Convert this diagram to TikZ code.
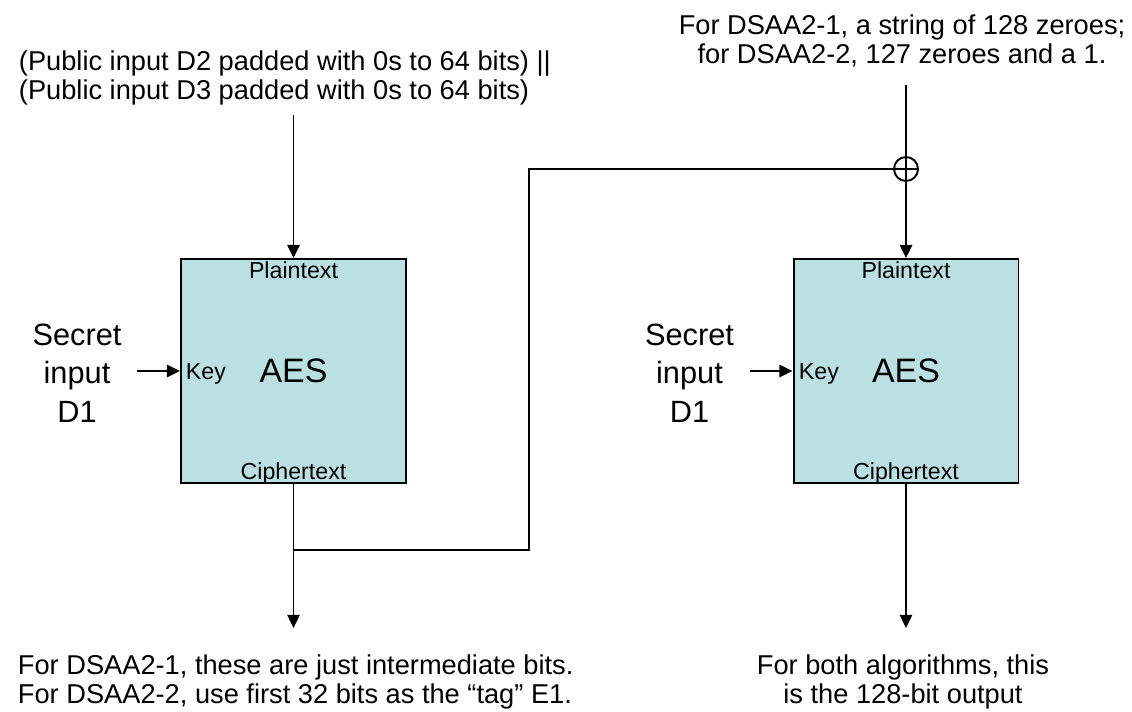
\documentclass[tikz,border=0pt]{standalone}
\usepackage{fontspec}
\setmainfont{Liberation Sans}
\usepackage{tikz}
\usetikzlibrary{positioning,arrows.meta}
\usepackage{xcolor}
\definecolor{aesfill}{RGB}{187,224,228}

\begin{document}
\begin{tikzpicture}[x=0.02cm, y=-0.02cm, line width=1.1pt,
  aesbox/.style={draw, fill=aesfill, minimum width=4.5cm, minimum height=4.48cm, inner sep=0pt,
    font=\fontsize{19.3pt}{22pt}\selectfont},
  portlbl/.style={inner sep=0pt, font=\fontsize{13.2pt}{15pt}\selectfont},
  note/.style={inner sep=0pt, font=\fontsize{15.5pt}{16.5pt}\selectfont},
  secret/.style={inner sep=0pt, align=center, font=\fontsize{17.5pt}{21.9pt}\selectfont},
  flow/.style={-{Triangle[length=7.5pt,width=7pt]}}]

  \useasboundingbox (0,0) rectangle (1132,711);

  % The two AES blocks, 225 px squares
  \node[aesbox] (aesA) at (293.5,371) {AES};
  \node[aesbox] (aesB) at (906,371) {AES};

  % Port labels inside the blocks
  \node[portlbl, anchor=base] (ptA) at (293.5,278) {Plaintext};
  \node[portlbl, anchor=base] (ctA) at (293.5,479) {Ciphertext};
  \node[portlbl, anchor=base west] (kyA) at (185,379) {Key};
  \node[portlbl, anchor=base] (ptB) at (906,278) {Plaintext};
  \node[portlbl, anchor=base] (ctB) at (906,479) {Ciphertext};
  \node[portlbl, anchor=base west] (kyB) at (798,379) {Key};

  % Secret key inputs
  \node[secret] (secA) at (77,373) {Secret\\input\\D1};
  \node[secret] (secB) at (689.5,373) {Secret\\input\\D1};
  \coordinate (keyA) at (137,371);
  \coordinate (keyB) at (749.5,371);
  \draw[flow] (keyA) -- (aesA.west);
  \draw[flow] (keyB) -- (aesB.west);

  % Public input to the first block
  \node[note, anchor=north west, align=left] (pubin) at (18,50)
    {(Public input D2 padded with 0s to 64 bits) ||\\(Public input D3 padded with 0s to 64 bits)};
  \coordinate (inA) at (293.5,115);
  \draw[flow] (inA) -- (aesA.north);

  % Constant XORed with the first output
  \node[note, anchor=north, align=center] (const) at (902,14)
    {For DSAA2-1, a string of 128 zeroes;\\for DSAA2-2, 127 zeroes and a 1.};
  \coordinate (inB) at (906,85);
  \node[draw, circle, minimum size=0.48cm, inner sep=0pt] (xor) at (906,169) {};
  \draw (xor.north) -- (xor.south);
  \draw (xor.west) -- (xor.east);
  \draw (inB) -- (xor.north);
  \draw[flow] (xor.south) -- (aesB.north);

  % Feedback from first ciphertext
  \coordinate (split) at (293.5,550);
  \coordinate (fbturn) at (529,550);
  \draw (split) -- (fbturn) |- (xor.west);

  % Outputs
  \coordinate (outA) at (293.5,628);
  \coordinate (outB) at (906,628);
  \draw[flow] (aesA.south) -- (outA);
  \draw[flow] (aesB.south) -- (outB);
  \node[note, anchor=north west, align=left] (resA) at (17,654)
    {For DSAA2-1, these are just intermediate bits.\\For DSAA2-2, use first 32 bits as the “tag” E1.};
  \node[note, anchor=north, align=center] (resB) at (903,654)
    {For both algorithms, this\\is the 128-bit output};
\end{tikzpicture}
\end{document}
